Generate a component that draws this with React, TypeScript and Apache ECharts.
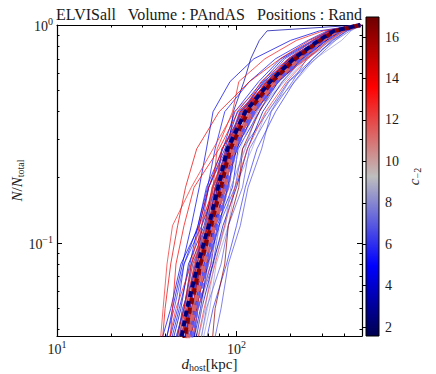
import React, { useEffect, useRef } from 'react';
import * as echarts from 'echarts';

// Cumulative fraction levels (N/N_total) at which each curve's distance is read
const FRACTION_LEVELS = [0.03, 0.05, 0.08, 0.12, 0.18, 0.27, 0.4, 0.55, 0.7, 0.85, 0.94, 1.0];

// c_-2 value of each individual host curve
const C_VALUES = [
  5.2, 4.1, 6.3, 3.2, 7.0, 5.8, 4.6, 6.8, 3.8, 5.0,
  2.5, 7.5, 6.0, 4.9, 6.6, 5.5, 3.5, 7.8, 4.3, 5.7,
  6.9, 4.4, 6.2, 5.3, 3.9,
  14.5, 12.5, 13.8, 15.5, 16.2, 14.0, 13.2, 15.0, 12.0, 14.8,
  16.5, 13.5, 12.8, 15.8, 13.0, 14.2, 12.3,
  9.0, 10.0, 8.5, 10.8, 9.5,
  5.9, 4.7, 14.6, 13.6, 6.5, 15.2, 3.6, 12.6,
];

// d_host [kpc] of each curve at the fraction levels above
const CURVE_DISTANCES = [
  [40, 47, 51, 61, 68, 84, 98, 133, 176, 265, 325, 480],
  [45, 50, 61, 64, 77, 83, 108, 141, 205, 285, 368, 495],
  [53, 58, 70, 76, 90, 98, 128, 166, 236, 315, 395, 490],
  [42, 49, 54, 66, 74, 90, 96, 110, 120, 134, 148, 480],
  [61, 68, 82, 90, 108, 118, 155, 196, 276, 355, 428, 490],
  [50, 59, 64, 76, 82, 97, 115, 163, 210, 305, 360, 490],
  [47, 53, 63, 68, 82, 88, 115, 146, 210, 280, 355, 485],
  [72, 82, 90, 105, 116, 138, 156, 205, 246, 335, 396, 495],
  [43, 51, 57, 70, 76, 92, 112, 158, 205, 306, 365, 490],
  [56, 61, 72, 78, 95, 102, 134, 171, 240, 315, 390, 490],
  [50, 57, 62, 73, 78, 93, 109, 154, 200, 290, 340, 490],
  [58, 67, 73, 86, 93, 112, 131, 185, 245, 356, 405, 495],
  [38, 45, 51, 64, 70, 88, 104, 144, 186, 275, 336, 480],
  [48, 57, 63, 77, 84, 101, 117, 170, 220, 316, 372, 490],
  [54, 61, 74, 80, 98, 108, 150, 194, 266, 340, 410, 495],
  [46, 54, 60, 72, 78, 95, 111, 156, 196, 285, 342, 490],
  [51, 57, 68, 74, 88, 94, 122, 154, 220, 294, 365, 490],
  [62, 71, 77, 90, 98, 122, 146, 212, 275, 385, 435, 495],
  [36, 43, 49, 62, 70, 86, 101, 139, 181, 270, 330, 480],
  [49, 56, 66, 72, 85, 92, 119, 152, 216, 288, 358, 490],
  [43, 51, 56, 68, 74, 91, 107, 152, 196, 280, 336, 485],
  [39, 44, 50, 56, 62, 68, 74, 92, 125, 200, 290, 480],
  [65, 74, 88, 100, 112, 130, 165, 210, 265, 345, 415, 495],
  [41, 48, 55, 61, 69, 76, 86, 118, 165, 250, 320, 480],
  [57, 64, 74, 84, 100, 115, 140, 180, 235, 300, 370, 490],
  [48, 54, 61, 62, 70, 83, 113, 146, 210, 280, 355, 490],
  [37, 39, 41, 44, 56, 74, 97, 148, 196, 290, 345, 490],
  [42, 44, 46, 51, 58, 80, 102, 154, 200, 295, 350, 490],
  [50, 58, 63, 74, 78, 93, 107, 152, 196, 285, 340, 490],
  [72, 76, 86, 90, 103, 108, 134, 166, 230, 300, 375, 490],
  [45, 53, 58, 69, 74, 90, 105, 149, 193, 285, 340, 490],
  [53, 59, 69, 73, 87, 93, 124, 160, 230, 305, 380, 490],
  [47, 55, 60, 71, 76, 93, 111, 162, 215, 310, 365, 490],
  [55, 61, 72, 76, 91, 98, 129, 166, 240, 325, 400, 495],
  [44, 51, 56, 67, 73, 89, 105, 154, 205, 305, 360, 490],
  [50, 55, 63, 69, 81, 88, 115, 146, 205, 280, 355, 490],
  [49, 57, 62, 74, 80, 96, 125, 168, 245, 325, 395, 495],
  [40, 46, 56, 62, 76, 83, 108, 137, 195, 265, 345, 485],
  [52, 59, 64, 75, 80, 95, 110, 156, 200, 292, 348, 490],
  [46, 51, 59, 64, 74, 78, 95, 103, 144, 216, 305, 490],
  [38, 40, 43, 47, 52, 60, 80, 118, 175, 255, 330, 485],
  [58, 66, 76, 86, 98, 115, 145, 190, 250, 330, 400, 495],
  [56, 64, 70, 82, 88, 105, 125, 179, 236, 335, 390, 495],
  [46, 52, 61, 67, 81, 88, 115, 146, 210, 286, 360, 490],
  [60, 69, 75, 87, 93, 111, 129, 182, 236, 325, 380, 490],
  [44, 52, 57, 68, 74, 91, 107, 154, 206, 305, 360, 490],
  [51, 57, 67, 73, 86, 93, 121, 156, 225, 300, 375, 490],
  [49, 55, 62, 71, 79, 89, 110, 150, 204, 283, 350, 490],
  [52, 60, 66, 77, 85, 97, 123, 162, 226, 305, 372, 490],
  [51, 56, 65, 71, 83, 91, 114, 160, 212, 298, 356, 490],
  [46, 54, 59, 70, 77, 92, 110, 148, 208, 290, 352, 490],
  [45, 52, 59, 67, 77, 87, 106, 143, 195, 282, 345, 488],
  [53, 60, 68, 76, 86, 97, 121, 163, 222, 302, 365, 490],
  [55, 63, 69, 80, 89, 100, 126, 172, 232, 318, 380, 492],
  [47, 53, 62, 68, 80, 87, 112, 151, 209, 292, 356, 490],
];

// Thick dashed median curves
const MEDIAN_COLORS = ['#5a5aff', '#e06666', '#8b0000', '#00007a'];
const MEDIAN_DISTANCES = [
  [53, 60, 68, 78, 88, 98, 124, 167, 225, 304, 366, 490],
  [51, 58, 66, 75, 85, 95, 120, 163, 219, 298, 360, 490],
  [49, 55, 63, 72, 82, 92, 116, 158, 213, 293, 354, 490],
  [47, 53, 61, 70, 79, 89, 112, 154, 208, 288, 349, 490],
];

const X_RANGE = [10, 500];
const Y_RANGE = [0.0374, 1];
const X_MAJOR = [10, 100];
const X_MINOR = [20, 30, 40, 50, 60, 70, 80, 90, 200, 300, 400];
const Y_MAJOR = [0.1, 1];
const Y_MINOR = [0.04, 0.05, 0.06, 0.07, 0.08, 0.09, 0.2, 0.3, 0.4, 0.5, 0.6, 0.7, 0.8, 0.9];
const C_RANGE = [1.57, 16.97];
const C_TICKS = [2, 4, 6, 8, 10, 12, 14, 16];

const CMAP: [number, number[]][] = [
  [0, [0, 0, 80]],
  [0.22, [0, 0, 255]],
  [0.5, [190, 190, 190]],
  [0.78, [255, 0, 0]],
  [1, [110, 0, 0]],
];

function cmapRGB(t: number): number[] {
  const tt = Math.max(0, Math.min(1, t));
  for (let i = 1; i < CMAP.length; i++) {
    const [t1, c1] = CMAP[i];
    const [t0, c0] = CMAP[i - 1];
    if (tt <= t1) {
      const f = (tt - t0) / (t1 - t0);
      return c0.map((v, k) => Math.round(v + (c1[k] - v) * f));
    }
  }
  return CMAP[CMAP.length - 1][1];
}
function colorFor(c: number, a = 1) {
  const t = (c - C_RANGE[0]) / (C_RANGE[1] - C_RANGE[0]);
  const [r, g, b] = cmapRGB(t);
  return `rgba(${r},${g},${b},${a})`;
}

const FONT = '"Liberation Serif", "DejaVu Serif", serif';
const TXT = '#1a1a1a';

const supRich = {
  b: { fontSize: 14, fontFamily: FONT, color: TXT, verticalAlign: 'bottom' },
  sup: { fontSize: 10, fontFamily: FONT, color: TXT, verticalAlign: 'top', padding: [0, 0, 7, 0] },
};
const logLabel = (v: number) => `{b|10}{sup|${String(Math.round(Math.log10(v))).replace('-', '−')}}`;

const nameRich = {
  i: { fontSize: 15, fontFamily: FONT, fontStyle: 'italic', color: TXT, verticalAlign: 'top' },
  b: { fontSize: 15, fontFamily: FONT, color: TXT, verticalAlign: 'top' },
  sub: { fontSize: 10, fontFamily: FONT, color: TXT, verticalAlign: 'bottom', padding: [6, 0, 0, 0] },
};

export default function App() {
  const ref = useRef<HTMLDivElement>(null);
  useEffect(() => {
    if (!ref.current) return;
    const chart = echarts.init(ref.current, null, { renderer: 'svg' });
    const grid0 = { left: 57, top: 25, width: 305, height: 311, outerBoundsMode: 'none', containLabel: false };
    const grid1 = { left: 366, top: 17, width: 13, height: 319, outerBoundsMode: 'none', containLabel: false };

    const tickLine = { lineStyle: { color: '#000', width: 1 } };

    const xBase = (extra: any) => ({
      type: 'log', logBase: 10, min: X_RANGE[0], max: X_RANGE[1], gridIndex: 0,
      splitLine: { show: false }, minorTick: { show: false }, ...extra,
    });
    const yBase = (extra: any) => ({
      type: 'log', logBase: 10, min: Y_RANGE[0], max: Y_RANGE[1], gridIndex: 0,
      splitLine: { show: false }, minorTick: { show: false }, ...extra,
    });

    const series: any[] = [];
    CURVE_DISTANCES.forEach((ds, i) => {
      const c = C_VALUES[i];
      const mid = Math.abs(c - 9.3) < 2;
      series.push({
        type: 'line', xAxisIndex: 0, yAxisIndex: 0,
        data: ds.map((d, k) => [d, FRACTION_LEVELS[k]]),
        showSymbol: false, symbol: 'none', silent: true, clip: true,
        lineStyle: { width: 0.9, color: colorFor(c, mid ? 0.6 : 0.8) },
        z: 2,
      });
    });
    MEDIAN_DISTANCES.forEach((ds, i) => {
      series.push({
        type: 'line', xAxisIndex: 0, yAxisIndex: 0,
        data: ds.map((d, k) => [d, FRACTION_LEVELS[k]]),
        showSymbol: false, symbol: 'none', silent: true, clip: true,
        lineStyle: { width: i < 2 ? 4.5 : 4, color: MEDIAN_COLORS[i], type: [6, 4], dashOffset: i * 3, opacity: i < 2 ? 0.85 : 1 },
        z: 3 + i,
      });
    });
    series.push({
      type: 'custom', xAxisIndex: 4, yAxisIndex: 4, silent: true,
      data: [[0, C_RANGE[0], 1, C_RANGE[1]]],
      renderItem: (params: any, api: any) => {
        const p0 = api.coord([api.value(0), api.value(1)]);
        const p1 = api.coord([api.value(2), api.value(3)]);
        const stops = CMAP.map(([t]) => ({ offset: t, color: colorFor(C_RANGE[0] + t * (C_RANGE[1] - C_RANGE[0])) }));
        return {
          type: 'rect',
          shape: { x: p0[0], y: p1[1], width: p1[0] - p0[0], height: p0[1] - p1[1] },
          style: { fill: new echarts.graphic.LinearGradient(0, 1, 0, 0, stops), stroke: '#000', lineWidth: 1 },
        };
      },
    });

    chart.setOption({
      animation: false,
      grid: [grid0, grid1],
      xAxis: [
        xBase({
          position: 'bottom',
          axisLine: { show: true, lineStyle: { color: '#000', width: 1.2 } },
          axisTick: { show: true, inside: true, length: 5, customValues: X_MAJOR, ...tickLine },
          axisLabel: { show: true, customValues: X_MAJOR, formatter: logLabel, rich: supRich, margin: 3 },
          name: '{i|d}{sub|host}{b|[kpc]}',
          nameLocation: 'middle', nameGap: 20, nameMoveOverlap: false,
          nameTextStyle: { rich: nameRich },
        }),
        xBase({
          position: 'bottom', axisLine: { show: false }, axisLabel: { show: false },
          axisTick: { show: true, inside: true, length: 2.5, customValues: X_MINOR, ...tickLine },
        }),
        xBase({
          position: 'top', axisLine: { show: true, lineStyle: { color: '#000', width: 1.2 } }, axisLabel: { show: false },
          axisTick: { show: true, inside: true, length: 5, customValues: X_MAJOR, ...tickLine },
        }),
        xBase({
          position: 'top', axisLine: { show: false }, axisLabel: { show: false },
          axisTick: { show: true, inside: true, length: 2.5, customValues: X_MINOR, ...tickLine },
        }),
        { type: 'value', gridIndex: 1, min: 0, max: 1, show: false },
      ],
      yAxis: [
        yBase({
          position: 'left',
          axisLine: { show: true, lineStyle: { color: '#000', width: 1.2 } },
          axisTick: { show: true, inside: true, length: 5, customValues: Y_MAJOR, ...tickLine },
          axisLabel: { show: true, customValues: Y_MAJOR, formatter: logLabel, rich: supRich, margin: 4 },
          name: '{i|N}{b|/}{i|N}{sub|total}',
          nameLocation: 'middle', nameGap: 32, nameRotate: 90, nameMoveOverlap: false,
          nameTextStyle: { rich: nameRich },
        }),
        yBase({
          position: 'left', axisLine: { show: false }, axisLabel: { show: false },
          axisTick: { show: true, inside: true, length: 2.5, customValues: Y_MINOR, ...tickLine },
        }),
        yBase({
          position: 'right', axisLine: { show: true, lineStyle: { color: '#000', width: 1.2 } }, axisLabel: { show: false },
          axisTick: { show: true, inside: true, length: 5, customValues: Y_MAJOR, ...tickLine },
        }),
        yBase({
          position: 'right', axisLine: { show: false }, axisLabel: { show: false },
          axisTick: { show: true, inside: true, length: 2.5, customValues: Y_MINOR, ...tickLine },
        }),
        {
          type: 'value', gridIndex: 1, position: 'right', min: C_RANGE[0], max: C_RANGE[1],
          splitLine: { show: false },
          axisLine: { show: false },
          axisTick: { show: true, inside: true, length: 3, customValues: C_TICKS, lineStyle: { color: '#000' } },
          axisLabel: { show: true, customValues: C_TICKS, fontSize: 14, fontFamily: FONT, color: TXT, margin: 6 },
          name: '{i|c}{sub|−2}',
          nameLocation: 'middle', nameGap: 27, nameRotate: 90, nameMoveOverlap: false,
          nameTextStyle: { rich: nameRich },
        },
      ],
      graphic: [
        {
          type: 'text', x: 209, y: 14, silent: true,
          style: {
            text: 'ELVISall   Volume : PAndAS   Positions : Rand',
            fontSize: 16, fontFamily: FONT, fill: TXT, align: 'center', verticalAlign: 'middle',
          },
        },
      ],
      series,
    });
    return () => chart.dispose();
  }, []);
  return <div ref={ref} style={{ position: 'fixed', left: 0, top: 0, width: 436, height: 374, background: '#fff' }} />;
}
